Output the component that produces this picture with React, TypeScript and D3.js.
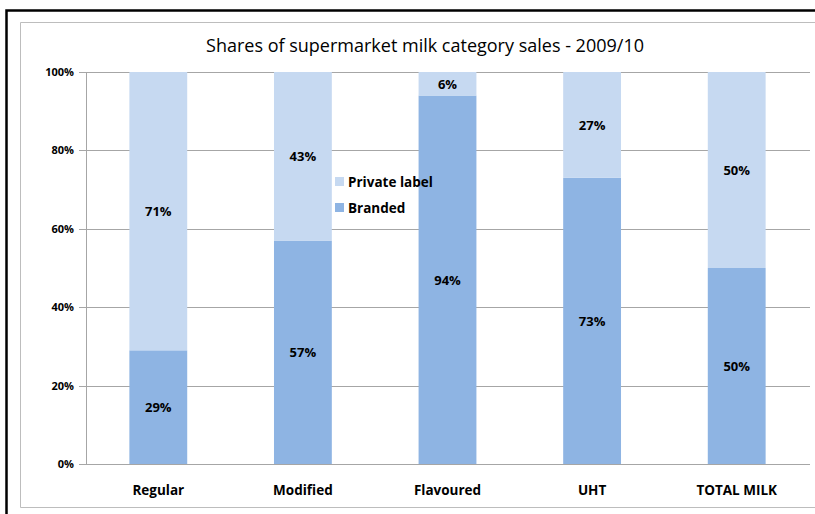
import { useRef, useEffect } from "react";
import * as d3 from "d3";

const categories = ["Regular", "Modified", "Flavoured", "UHT", "TOTAL MILK"];
const branded = [29, 57, 94, 73, 50];
const privateLabel = [71, 43, 6, 27, 50];
const yTicks = [0, 20, 40, 60, 80, 100];
const seriesNames = ["Private label", "Branded"];
const title = "Shares of supermarket milk category sales - 2009/10";

const App = () => {
  const svgRef = useRef<SVGSVGElement>(null);

  useEffect(() => {
    const svg = d3.select(svgRef.current);
    svg.selectAll("*").remove();
    const width = 815,
      height = 514,
      margin = { top: 72, right: 6, bottom: 50, left: 86 },
      font = "'Open Sans', sans-serif",
      colBranded = "#8eb4e3",
      colPrivate = "#c6d9f1";

    svg.append("rect").attr("width", width).attr("height", height).attr("fill", "#fff");

    // outer black frame and inner gray frame
    svg
      .append("path")
      .attr("d", "M6.5,514 V10.5 H815")
      .attr("fill", "none")
      .attr("stroke", "#000")
      .attr("stroke-width", 2.5);
    svg
      .append("path")
      .attr("d", "M20.5,507.5 V22.5 H815 M20.5,507.5 H815")
      .attr("fill", "none")
      .attr("stroke", "#bdbdbd")
      .attr("stroke-width", 1);

    svg
      .append("text")
      .attr("x", 425)
      .attr("y", 52)
      .attr("text-anchor", "middle")
      .style("font-family", font)
      .style("font-size", "18px")
      .attr("fill", "#000")
      .text(title);

    const x = d3
      .scaleBand()
      .domain(categories)
      .range([margin.left, width - margin.right])
      .paddingInner(0.6)
      .paddingOuter(0.3);
    const y = d3
      .scaleLinear()
      .domain([0, 100])
      .range([height - margin.bottom, margin.top]);

    // gridlines
    svg
      .append("g")
      .selectAll("line")
      .data(yTicks)
      .join("line")
      .attr("x1", margin.left - 7)
      .attr("x2", 810)
      .attr("y1", (d) => Math.round(y(d)) + 0.5)
      .attr("y2", (d) => Math.round(y(d)) + 0.5)
      .attr("stroke", "#a6a6a6");

    svg
      .append("line")
      .attr("x1", margin.left + 0.5)
      .attr("x2", margin.left + 0.5)
      .attr("y1", y(100))
      .attr("y2", y(0))
      .attr("stroke", "#a6a6a6");

    svg
      .append("g")
      .selectAll("text")
      .data(yTicks)
      .join("text")
      .attr("x", margin.left - 12)
      .attr("y", (d) => y(d) + 4)
      .attr("text-anchor", "end")
      .style("font-family", font)
      .style("font-size", "11px")
      .style("font-weight", "bold")
      .text((d) => d + "%");

    const data = categories.map((c, i) => ({ c, b: branded[i], p: privateLabel[i] }));

    const g = svg.append("g");
    g.selectAll("rect.b")
      .data(data)
      .join("rect")
      .attr("class", "b")
      .attr("x", (d) => x(d.c)!)
      .attr("width", x.bandwidth())
      .attr("y", (d) => y(d.b))
      .attr("height", (d) => y(0) - y(d.b))
      .attr("fill", colBranded);
    g.selectAll("rect.p")
      .data(data)
      .join("rect")
      .attr("class", "p")
      .attr("x", (d) => x(d.c)!)
      .attr("width", x.bandwidth())
      .attr("y", (d) => y(d.b + d.p))
      .attr("height", (d) => y(d.b) - y(d.b + d.p))
      .attr("fill", colPrivate);

    const label = (sel: any, size = "13px") =>
      sel
        .attr("text-anchor", "middle")
        .style("font-family", font)
        .style("font-size", size)
        .style("font-weight", "bold")
        .attr("fill", "#000");

    g.selectAll("text.b")
      .data(data)
      .join("text")
      .attr("class", "b")
      .attr("x", (d) => x(d.c)! + x.bandwidth() / 2)
      .attr("y", (d) => y(d.b / 2) + 5)
      .call(label)
      .text((d) => d.b + "%");
    g.selectAll("text.p")
      .data(data)
      .join("text")
      .attr("class", "p")
      .attr("x", (d) => x(d.c)! + x.bandwidth() / 2)
      .attr("y", (d) => y(d.b + d.p / 2) + 5)
      .call(label)
      .text((d) => d.p + "%");

    // category labels
    svg
      .append("g")
      .selectAll("text")
      .data(categories)
      .join("text")
      .attr("x", (d) => x(d)! + x.bandwidth() / 2)
      .attr("y", 495)
      .call(label, "13.5px")
      .text((d) => d);

    // legend
    const legend = svg.append("g").attr("transform", "translate(335,177)");
    seriesNames.forEach((n, i) => {
      legend
        .append("rect")
        .attr("x", 0)
        .attr("y", i * 26)
        .attr("width", 9)
        .attr("height", 9)
        .attr("fill", i === 0 ? colPrivate : colBranded);
      legend
        .append("text")
        .attr("x", 13)
        .attr("y", i * 26 + 10)
        .style("font-family", font)
        .style("font-size", "13.5px")
        .style("font-weight", "bold")
        .text(n);
    });
  }, []);

  return (
    <svg
      ref={svgRef}
      width={815}
      height={514}
      style={{ position: "absolute", left: 0, top: 0 }}
    ></svg>
  );
};

export default App;
